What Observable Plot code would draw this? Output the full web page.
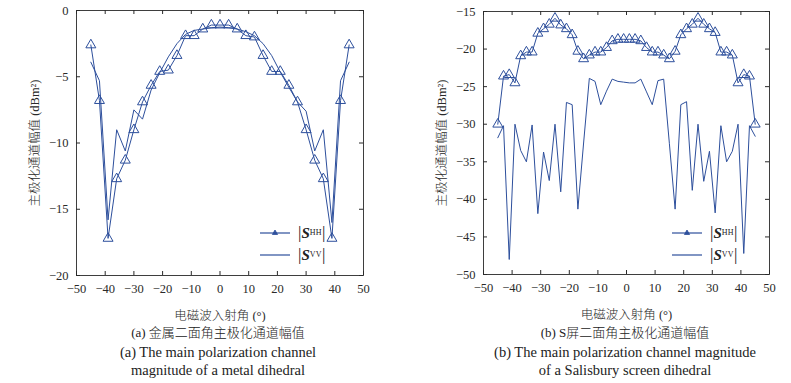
<!DOCTYPE html>
<html><head><meta charset="utf-8">
<script src="https://cdn.jsdelivr.net/npm/d3@7"></script>
<script src="https://cdn.jsdelivr.net/npm/@observablehq/plot@0.6"></script>
<style>
body{margin:0;background:#fff;}
#root{position:relative;width:791px;height:383px;overflow:hidden;font-family:"Liberation Serif","DejaVu Serif","Noto Sans CJK SC",serif;color:#222;}
.panel{position:absolute;top:0;}
.cap{position:absolute;width:400px;text-align:center;font-size:14.5px;line-height:18px;white-space:nowrap;font-weight:300;}
.cap.zh{font-size:13px;}
.leg{position:absolute;font-size:14px;line-height:20px;white-space:nowrap;}
.leg .row{display:flex;align-items:center;height:22px;}
.leg svg{margin-right:8px;}
.leg sub{font-size:8px;font-style:normal;vertical-align:-3px;letter-spacing:0.3px;}
.leg b{font-style:italic;font-size:15px;}
.bar{font-size:17px;}
svg.panel text{font-weight:300;}
</style></head><body><div id="root"></div>
<script>
// ---- data ----
const anglesA = [-45,-42,-39,-36,-33,-30,-27,-24,-21,-18,-15,-12,-9,-6,-3,0,3,6,9,12,15,18,21,24,27,30,33,36,39,42,45];
const hhA = [-2.6,-6.8,-17.2,-12.7,-11.3,-9.0,-6.9,-5.65,-4.6,-4.5,-3.4,-1.9,-1.9,-1.4,-1.1,-1.1,-1.1,-1.4,-1.9,-2.0,-3.4,-4.6,-4.6,-5.65,-6.9,-9.0,-11.3,-12.7,-17.2,-6.8,-2.6];
const vvA = [-3.9,-5.3,-15.8,-9.0,-10.6,-7.5,-8.2,-6.0,-4.7,-3.5,-2.5,-1.8,-1.5,-1.4,-1.3,-1.25,-1.3,-1.4,-1.6,-1.9,-2.5,-3.4,-4.65,-5.8,-6.9,-7.6,-10.6,-9.0,-16.0,-5.3,-3.9];

const anglesB = [-45,-43,-41,-39,-37,-35,-33,-31,-29,-27,-25,-23,-21,-19,-17,-15,-13,-11,-9,-7,-5,-3,-1,1,3,5,7,9,11,13,15,17,19,21,23,25,27,29,31,33,35,37,39,41,43,45];
const hhB = [-30.0,-23.6,-23.4,-24.5,-20.9,-20.4,-20.4,-17.9,-17.3,-16.7,-15.9,-16.8,-17.3,-18.1,-20.3,-21.3,-20.8,-20.4,-20.4,-19.8,-18.9,-18.7,-18.7,-18.7,-18.7,-18.9,-19.8,-20.4,-20.4,-20.8,-21.3,-20.3,-18.1,-17.3,-16.7,-15.9,-16.7,-17.3,-17.8,-20.4,-20.4,-20.8,-24.5,-23.4,-23.6,-30.0];
const vvB = [-31.8,-30.2,-48.0,-30.0,-33.5,-35.0,-30.1,-41.9,-33.7,-37.5,-30.0,-39.0,-27.1,-27.4,-41.3,-32.5,-23.9,-24.3,-27.4,-25.6,-24.0,-24.3,-24.4,-24.5,-24.5,-24.0,-25.7,-27.4,-24.2,-24.0,-32.6,-41.3,-27.4,-27.0,-38.8,-30.0,-37.6,-33.6,-41.8,-30.2,-35.0,-33.6,-30.0,-47.2,-30.2,-31.6];

const xTicks = [-50,-40,-30,-20,-10,0,10,20,30,40,50];
const yTicksA = [0,-5,-10,-15,-20];
const yTicksB = [-15,-20,-25,-30,-35,-40,-45,-50];

const xLabel = "电磁波入射角 (°)";
const yLabel = "主极化通道幅值 (dBm²)";
const capsA = ["(a) 金属二面角主极化通道幅值","(a) The main polarization channel","magnitude of a metal dihedral"];
const capsB = ["(b) S屏二面角主极化通道幅值","(b) The main polarization channel magnitude","of a Salisbury screen dihedral"];

const blue = "#2d4f9c";
const ink = "#2a2a2a";
const font = '"Liberation Serif","DejaVu Serif","Noto Sans CJK SC",serif';

function panel({angles, hh, vv, yDomain, yTicks, left, width, height, mL, mR, mT, mB}) {
  const rowsHH = angles.map((a,i)=>({a, v: hh[i]}));
  const rowsVV = angles.map((a,i)=>({a, v: vv[i]}));
  const pw = width - mL - mR, ph = height - mT - mB;
  const tk = 4;
  const p = Plot.plot({
    width, height, marginLeft: mL, marginRight: mR, marginTop: mT, marginBottom: mB,
    style: {fontFamily: font, fontSize: "12.5px", color: ink, background: "transparent"},
    x: {domain: [-50, 50]},
    y: {domain: yDomain},
    marks: [
      Plot.frame({stroke: ink, strokeWidth: 0.9}),
      Plot.tickX(xTicks, {x: d=>d, insetTop: ph - tk, stroke: ink}),
      Plot.tickX(xTicks, {x: d=>d, insetBottom: ph - tk, stroke: ink}),
      Plot.tickY(yTicks, {y: d=>d, insetRight: pw - tk, stroke: ink}),
      Plot.tickY(yTicks, {y: d=>d, insetLeft: pw - tk, stroke: ink}),
      Plot.axisX({ticks: xTicks, tickSize: 0, tickPadding: 9, label: xLabel, labelAnchor: "center", labelOffset: 44, labelArrow: "none"}),
      Plot.axisY({ticks: yTicks, tickSize: 0, tickPadding: 8, label: yLabel, labelAnchor: "center", labelOffset: 46, labelArrow: "none"}),
      Plot.line(rowsVV, {x: "a", y: "v", stroke: blue, strokeWidth: 1}),
      Plot.line(rowsHH, {x: "a", y: "v", stroke: blue, strokeWidth: 1}),
      Plot.dot(rowsHH, {x: "a", y: "v", symbol: "triangle", r: 3.7, stroke: blue, fill: "none", strokeWidth: 1})
    ]
  });
  p.classList.add("panel");
  p.style.left = left + "px";
  return p;
}

const root = document.getElementById("root");
root.appendChild(panel({angles: anglesA, hh: hhA, vv: vvA, yDomain: [-20, 0], yTicks: yTicksA,
  left: 0, width: 395, height: 322, mL: 76, mR: 32, mT: 10, mB: 47}));
root.appendChild(panel({angles: anglesB, hh: hhB, vv: vvB, yDomain: [-50, -15], yTicks: yTicksB,
  left: 396, width: 395, height: 322, mL: 87, mR: 22, mT: 11, mB: 48}));

function legend(x, y) {
  const d = document.createElement("div");
  d.className = "leg";
  d.style.left = x + "px"; d.style.top = y + "px";
  d.innerHTML =
    `<div class="row"><svg width="30" height="10"><line x1="0" y1="5" x2="30" y2="5" stroke="${blue}" stroke-width="1.2"/><path d="M15,2 L17.6,6.5 L12.4,6.5 Z" fill="${blue}" stroke="${blue}" stroke-width="0.8"/></svg><span class="bar">|</span><b>S</b><sub>HH</sub><span class="bar">|</span></div>` +
    `<div class="row"><svg width="30" height="10"><line x1="0" y1="5" x2="30" y2="5" stroke="${blue}" stroke-width="1.2"/></svg><span class="bar">|</span><b>S</b><sub>VV</sub><span class="bar">|</span></div>`;
  root.appendChild(d);
}
legend(260, 222);
legend(672, 222);

function caps(lines, cx) {
  lines.forEach((t, i) => {
    const d = document.createElement("div");
    d.className = "cap" + (i === 0 ? " zh" : "");
    d.style.left = (cx - 200) + "px";
    d.style.top = (324 + i * 18.5) + "px";
    d.textContent = t;
    root.appendChild(d);
  });
}
caps(capsA, 218);
caps(capsB, 625);
</script>
</body></html>
